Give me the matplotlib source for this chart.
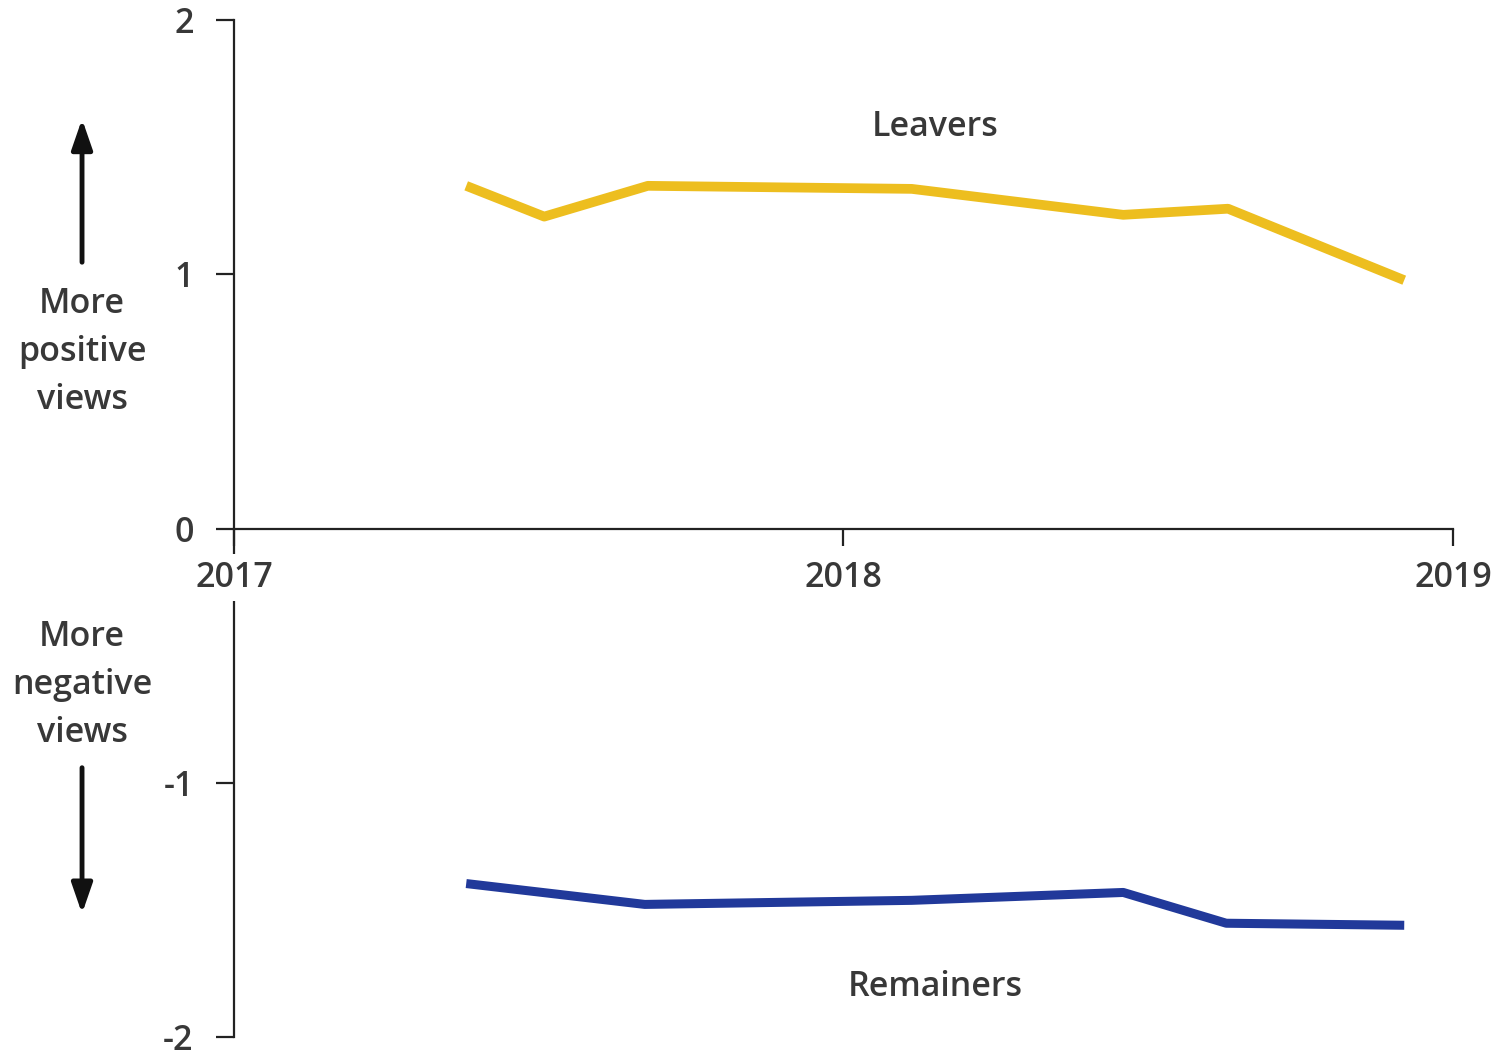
import matplotlib
matplotlib.use("Agg")
import matplotlib.pyplot as plt

plt.rcParams["font.family"] = ["Open Sans", "DejaVu Sans"]
plt.rcParams["axes.unicode_minus"] = False

# fractional years
leavers_x = [2017.381, 2017.509, 2017.679, 2018.112, 2018.459, 2018.631, 2018.920]
leavers_y = [1.348, 1.227, 1.348, 1.336, 1.234, 1.258, 0.977]

remainers_x = [2017.381, 2017.674, 2018.112, 2018.459, 2018.628, 2018.920]
remainers_y = [-1.395, -1.477, -1.461, -1.430, -1.551, -1.559]

x_ticks = [2017, 2018, 2019]
y_ticks = [-2, -1, 0, 1, 2]

text_col = "#383838"
fs = 24.5

fig = plt.figure(figsize=(14.97, 10.57), dpi=100)
ax = fig.add_axes([0.1563, 0.0185, 0.8143, 0.9626])

ax.plot(leavers_x, leavers_y, color="#EDBE1F", lw=7, solid_capstyle="butt")
ax.plot(remainers_x, remainers_y, color="#21399A", lw=6.5, solid_capstyle="butt")

ax.set_xlim(2017, 2019)
ax.set_ylim(-2, 2)

for s in ["top", "right"]:
    ax.spines[s].set_visible(False)
ax.spines["bottom"].set_position(("data", 0))
ax.spines["left"].set_position(("data", 2017))
for s in ["left", "bottom"]:
    ax.spines[s].set_linewidth(1.6)
    ax.spines[s].set_color("#222222")

ax.set_xticks(x_ticks)
ax.set_xticklabels([str(t) for t in x_ticks])
ax.set_yticks(y_ticks)
ax.set_yticklabels([str(t) for t in y_ticks])
ax.tick_params(axis="y", direction="out", length=13, width=1.6, color="#222222",
               pad=16, labelsize=fs, labelcolor=text_col)
ax.tick_params(axis="x", direction="out", length=12, width=1.6, color="#222222",
               pad=11, labelsize=fs, labelcolor=text_col)
ax.xaxis.set_zorder(3)
# white box behind the first year label cuts the left spine, like the original
ax.get_xticklabels()[0].set_bbox(dict(facecolor="white", edgecolor="none", pad=5))

ax.text(2018.15, 1.58, "Leavers", fontsize=fs, color=text_col, ha="center", va="center",
        fontweight="semibold")
ax.text(2018.15, -1.80, "Remainers", fontsize=fs, color=text_col, ha="center", va="center",
        fontweight="semibold")

# side notes with arrows
fig.text(0.0548, 0.667, "More\npositive\nviews", fontsize=fs, color=text_col,
         ha="center", va="center", linespacing=1.55, fontweight="semibold")
fig.text(0.0548, 0.352, "More\nnegative\nviews", fontsize=fs, color=text_col,
         ha="center", va="center", linespacing=1.55, fontweight="semibold")
arrow = dict(arrowstyle="-|>,head_length=1.3,head_width=0.45", lw=3.5, color="#111111")
fig.add_artist(matplotlib.patches.FancyArrowPatch((0.0548, 0.7493), (0.0548, 0.8900),
               transform=fig.transFigure, mutation_scale=14, **arrow))
fig.add_artist(matplotlib.patches.FancyArrowPatch((0.0548, 0.2763), (0.0548, 0.1330),
               transform=fig.transFigure, mutation_scale=14, **arrow))

for lab in ax.get_xticklabels() + ax.get_yticklabels():
    lab.set_fontweight("semibold")

fig.savefig("out.png", dpi=100, facecolor="white")
